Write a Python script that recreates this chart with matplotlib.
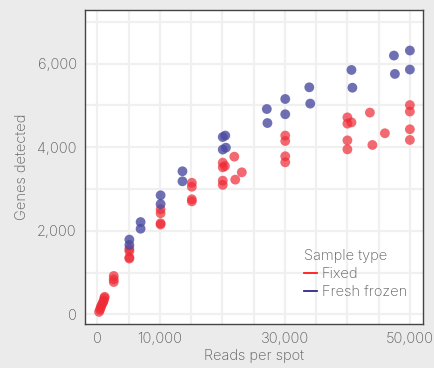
import matplotlib.pyplot as plt
from matplotlib.lines import Line2D
from matplotlib.ticker import FuncFormatter, MultipleLocator

plt.rcParams['font.family'] = ['Inter', 'DejaVu Sans']
plt.rcParams['font.weight'] = 'light'
plt.rcParams['axes.labelweight'] = 'light'

# Fixed samples
fix_x = [250, 400, 500, 600, 750, 900, 1000, 1100, 1150,
         2600, 2600, 2600,
         5100, 5100, 5100, 5100,
         10100, 10100, 10100, 10100,
         15100, 15100, 15100, 15100,
         20050, 20050, 20400, 20050, 20050, 21900, 22050, 23100,
         30050, 30050, 30050, 30050,
         40000, 40000, 40650, 40000, 40000, 43600, 44000, 46000,
         50000, 50000, 50000, 50000]
fix_y = [60, 110, 160, 200, 250, 290, 330, 390, 420,
         920, 840, 775,
         1570, 1515, 1365, 1335,
         2515, 2420, 2180, 2150,
         3150, 3055, 2755, 2705,
         3630, 3520, 3550, 3200, 3100, 3775, 3225, 3400,
         4280, 4150, 3785, 3640,
         4715, 4565, 4595, 4165, 3950, 4830, 4055, 4335,
         5010, 4855, 4430, 4175]

# Fresh frozen samples
ff_x = [5100, 5100, 6900, 6900, 10100, 10100, 13600, 13600,
        20050, 20450, 20050, 20550, 27100, 27200, 30050, 30050,
        33900, 34050, 40650, 40800, 47450, 47600, 50000, 50000]
ff_y = [1790, 1660, 2210, 2050, 2850, 2640, 3425, 3185,
        4245, 4280, 3945, 3990, 4915, 4580, 5155, 4790,
        5435, 5045, 5850, 5425, 6195, 5755, 6315, 5860]

txt = '#5a5a5a'
fs = 10.5
fig = plt.figure(figsize=(4.35, 3.68), dpi=100, facecolor='#ebebeb')
ax = fig.add_axes([85/435, 1-324/368, 338/435, 314/368])
ax.set_facecolor('white')

ax.scatter(fix_x, fix_y, s=50, color='#ee2a35', alpha=0.7, edgecolors='none', zorder=3)
ax.scatter(ff_x, ff_y, s=50, color='#4b4ba0', alpha=0.8, edgecolors='none', zorder=3)

ax.set_xlim(-2000, 52100)
ax.set_ylim(-230, 7285)
ax.xaxis.set_minor_locator(MultipleLocator(5000))
ax.yaxis.set_minor_locator(MultipleLocator(1000))
ax.set_xticks([0, 10000, 30000, 50000])
ax.set_yticks([0, 2000, 4000, 6000])
fmt = FuncFormatter(lambda v, p: f'{int(v):,}')
ax.xaxis.set_major_formatter(fmt)
ax.yaxis.set_major_formatter(fmt)
ax.grid(True, which='both', color='#f0f0f0', lw=1.6, zorder=0)
ax.tick_params(which='both', length=0, labelsize=fs, labelcolor=txt, pad=6)
for s in ax.spines.values():
    s.set_color('#444444')
    s.set_linewidth(1)

ax.set_xlabel('Reads per spot', color=txt, fontsize=fs, labelpad=2)
ax.set_ylabel('Genes detected', color=txt, fontsize=fs, labelpad=6)

handles = [Line2D([], [], color='#ff1a1a', lw=1.3),
           Line2D([], [], color='#2a2a90', lw=1.3)]
leg = ax.legend(handles, ['Fixed', 'Fresh frozen'], title='Sample type',
                loc='lower left', bbox_to_anchor=(0.625, 0.056), frameon=False,
                prop={'size': fs, 'weight': 'light'},
                title_fontproperties={'size': fs, 'weight': 'light'},
                handlelength=0.9, handletextpad=0.35, labelspacing=0.3,
                borderpad=0)
leg._legend_box.align = 'left'
leg._legend_box.sep = 3
for t in leg.get_texts():
    t.set_color(txt)
leg.get_title().set_color(txt)

fig.savefig('out.png', dpi=100, facecolor=fig.get_facecolor())
